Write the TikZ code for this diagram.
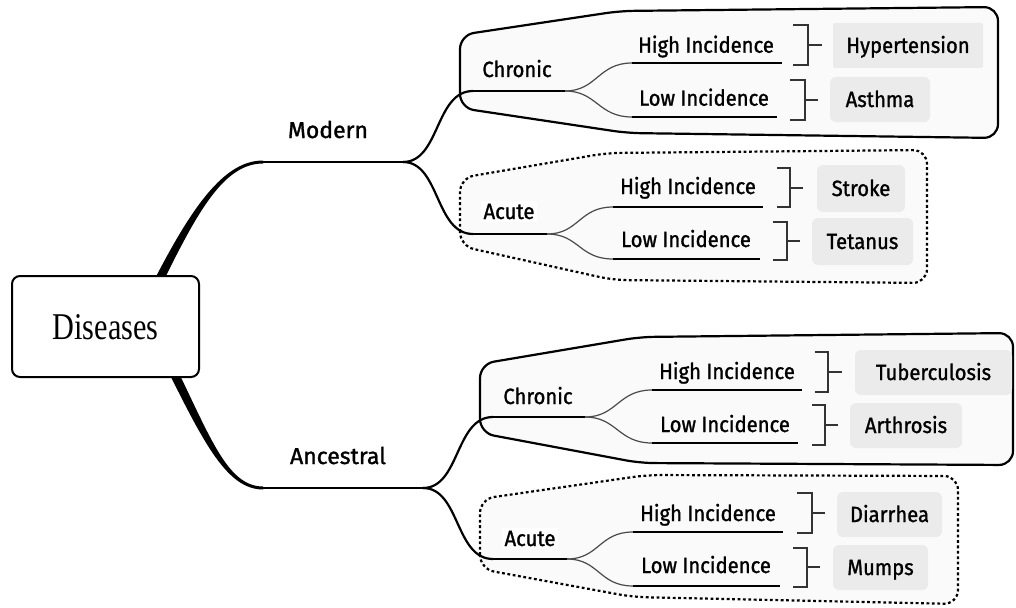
\documentclass[tikz,border=0pt]{standalone}
\usepackage{fontspec}
\usepackage{graphicx}
\setmainfont{Liberation Serif}
\newfontfamily\labfont[FakeBold=1.3]{Fira Sans}
\newcommand\sq[1]{\scalebox{0.92}[1]{#1}}
\newcommand\sqb[1]{\scalebox{1.0}[1]{#1}}
\newcommand\sqr[1]{\scalebox{0.8}[1]{#1}}
\definecolor{leafgray}{HTML}{EBEBEB}
\definecolor{framegray}{HTML}{FAFAFA}
\definecolor{brkgray}{HTML}{333333}
\definecolor{subgray}{HTML}{4A4A4A}
\begin{document}
\begin{tikzpicture}[x=1pt,y=-1pt,
  lab/.style={font=\labfont\fontsize{22}{24}\selectfont, inner sep=0pt, anchor=base},
  biglab/.style={lab, font=\labfont\fontsize{23}{25}\selectfont},
  whitelab/.style={lab, fill=white, inner sep=3pt},
  leaf/.style={fill=leafgray, rounded corners=6pt, inner sep=0pt, text height=15pt, text depth=0pt,
    font=\labfont\fontsize{22}{24}\selectfont},
  frame/.style={draw=black, fill=framegray, line width=2.2pt, rounded corners=14pt},
  dotframe/.style={frame, dash pattern=on 2.8pt off 2.6pt},
  brk/.style={draw=brkgray, line width=2pt},
  main/.style={draw=black, line width=2.2pt},
  stem/.style={draw=black, line width=2.8pt},
  subline/.style={draw=black, line width=1.8pt},
  subcurve/.style={draw=subgray, line width=1.2pt},
  rootbox/.style={draw=black, fill=white, line width=2pt, rounded corners=8pt, inner sep=0pt,
    minimum width=187pt, minimum height=101pt, text height=25pt, text depth=0pt,
    font=\fontsize{37.8}{40}\selectfont}
]
\useasboundingbox (0,0) rectangle (1016,607);

% ---- group frames ----
\path[frame] (460,108) -- (460,35) -- (620,11) -- (998,7) -- (998,138) -- (627,133) -- cycle;
\path[dotframe] (460,246) -- (460,178) -- (607,153) -- (927,150) -- (927,283) -- (613,280) -- cycle;
\path[frame] (480,433) -- (480,364) -- (640,337) -- (1013,333) -- (1013,465) -- (640,463) -- cycle;
\path[dotframe] (480,569) -- (480,499) -- (647,475) -- (958,476) -- (958,604) -- (633,597) -- cycle;

% ---- main coordinates ----
\coordinate (m0) at (263,162);
\coordinate (m1) at (403,162);
\coordinate (a0) at (263,488);
\coordinate (a1) at (423,488);

% tapered stems from root
\fill[black] (145,298) .. controls (186,217) and (220,160.5) .. (263,160.5)
  -- (263,163.5) .. controls (221,163.5) and (194,219) .. (155,298) -- cycle;
\fill[black] (160,355) .. controls (201,437) and (225,489.5) .. (263,489.5)
  -- (263,486.5) .. controls (226,486.5) and (209,433) .. (170,355) -- cycle;

\draw[stem] (m0) -- (m1);
\draw[stem] (a0) -- (a1);

% ---- top chronic ----
\coordinate (tcC0) at (473,91);  \coordinate (tcC1) at (565,91);
\coordinate (tcH0) at (632,63);  \coordinate (tcH1) at (782,63);
\coordinate (tcL0) at (632,117); \coordinate (tcL1) at (777,117);
% ---- top acute ----
\coordinate (taC0) at (473,234); \coordinate (taC1) at (547,234);
\coordinate (taH0) at (613,207); \coordinate (taH1) at (763,207);
\coordinate (taL0) at (613,259); \coordinate (taL1) at (760,259);
% ---- lower chronic ----
\coordinate (lcC0) at (493,417); \coordinate (lcC1) at (585,417);
\coordinate (lcH0) at (652,390); \coordinate (lcH1) at (802,390);
\coordinate (lcL0) at (652,443); \coordinate (lcL1) at (798,443);
% ---- lower acute ----
\coordinate (laC0) at (493,559); \coordinate (laC1) at (567,559);
\coordinate (laH0) at (633,532); \coordinate (laH1) at (783,532);
\coordinate (laL0) at (633,586); \coordinate (laL1) at (780,586);

% main branches
\draw[main] (m1) .. controls +(37,0) and +(-38,0) .. (tcC0);
\draw[main] (m1) .. controls +(37,0) and +(-38,0) .. (taC0);
\draw[main] (a1) .. controls +(37,0) and +(-38,0) .. (lcC0);
\draw[main] (a1) .. controls +(37,0) and +(-38,0) .. (laC0);

% category underlines and sub branches
\foreach \g in {tc,ta,lc,la}{
  \draw[stem] (\g C0) -- (\g C1);
  \draw[subcurve] (\g C1) .. controls +(32,0) and +(-34,0) .. (\g H0);
  \draw[subcurve] (\g C1) .. controls +(32,0) and +(-34,0) .. (\g L0);
  \draw[subline] (\g H0) -- (\g H1);
  \draw[subline] (\g L0) -- (\g L1);
}

% labels
\node[biglab] (modern) at (328,138) {\sqb{Modern}};
\node[biglab] (ancestral) at (338,464) {\sqb{Ancestral}};

\node[lab] (tcCl) at (517,77) {\sq{Chronic}};
\node[lab] (tcHl) at (706,52.7) {\sq{High Incidence}};
\node[lab] (tcLl) at (704,105.7) {\sq{Low Incidence}};

\node[whitelab] (taCl) at (509,219) {\sq{Acute}};
\node[lab] (taHl) at (688,194) {\sq{High Incidence}};
\node[lab] (taLl) at (686,247) {\sq{Low Incidence}};

\node[lab] (lcCl) at (538,404) {\sq{Chronic}};
\node[lab] (lcHl) at (727,379) {\sq{High Incidence}};
\node[lab] (lcLl) at (725,432) {\sq{Low Incidence}};

\node[whitelab] (laCl) at (530,546) {\sq{Acute}};
\node[lab] (laHl) at (708,521) {\sq{High Incidence}};
\node[lab] (laLl) at (706,573) {\sq{Low Incidence}};

% brackets
\draw[brk] (793,25) -| (808,65) -- (793,65);  \draw[brk] (808,45) -- (822,45);
\draw[brk] (790,80) -| (805,120) -- (790,120); \draw[brk] (805,100) -- (818,100);
\draw[brk] (777,168) -| (790,207) -- (777,207); \draw[brk] (790,188) -- (803,188);
\draw[brk] (773,222) -| (787,260) -- (773,260); \draw[brk] (787,241) -- (800,241);
\draw[brk] (815,352) -| (828,392) -- (815,392); \draw[brk] (828,372) -- (842,372);
\draw[brk] (812,405) -| (825,445) -- (812,445); \draw[brk] (825,425) -- (838,425);
\draw[brk] (797,493) -| (812,533) -- (797,533); \draw[brk] (812,513) -- (825,513);
\draw[brk] (793,548) -| (807,587) -- (793,587); \draw[brk] (807,567) -- (820,567);

% leaves
\node[leaf, rounded corners=1.5pt, minimum width=150pt, minimum height=45pt] (hyp) at (908,45.5) {\sq{Hypertension}};
\node[leaf, minimum width=100pt, minimum height=45pt] (ast) at (880,99.5) {\sq{Asthma}};
\node[leaf, minimum width=88pt, minimum height=47pt] (str) at (861,188.5) {\sq{Stroke}};
\node[leaf, minimum width=101pt, minimum height=47pt] (tet) at (862.5,241.5) {\sq{Tetanus}};
\node[leaf, minimum width=157pt, minimum height=45pt] (tub) at (933.5,372.5) {\sq{Tuberculosis}};
\node[leaf, minimum width=112pt, minimum height=45pt] (art) at (906,425.5) {\sq{Arthrosis}};
\node[leaf, minimum width=105pt, minimum height=45pt] (dia) at (889.5,514.5) {\sq{Diarrhea}};
\node[leaf, minimum width=95pt, minimum height=45pt] (mum) at (880.5,567.5) {\sq{Mumps}};

% root
\node[rootbox] (root) at (105.5,326.5) {\sqr{Diseases}};
\end{tikzpicture}
\end{document}
